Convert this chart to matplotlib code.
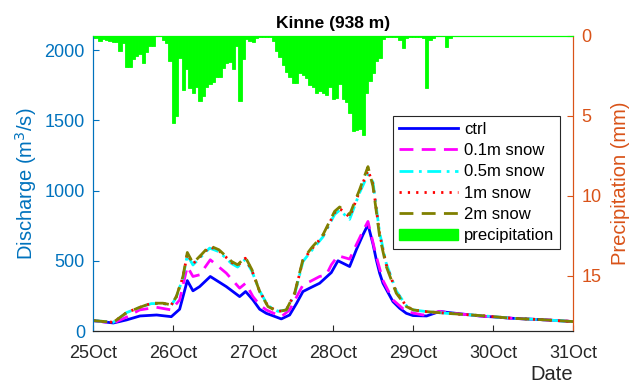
import matplotlib
matplotlib.use("Agg")
import matplotlib.pyplot as plt
from matplotlib.patches import Patch

plt.rcParams['font.family'] = ['Liberation Sans', 'DejaVu Sans']

# ---- data ----
day_labels = ['25Oct', '26Oct', '27Oct', '28Oct', '29Oct', '30Oct', '31Oct']

# hourly precipitation (mm), hour 0 = 25 Oct 00:00
precip = [0.12, 0.12, 0.29, 0.19, 0.25, 0.29, 0.40, 0.35, 0.92, 0.44,
          1.96, 1.96, 1.44, 1.27, 1.13, 1.71, 1.02, 0.65, 0.65, 0.02,
          0.02, 0.25, 0.46, 1.54, 5.46, 4.98, 1.38, 3.38, 2.06, 3.25,
          3.54, 3.17, 4.08, 3.75, 3.17, 3.00, 2.85, 2.58, 2.54, 2.02,
          1.69, 1.65, 2.04, 0.65, 4.04, 1.46, 0.19, 0.33, 0.40, 0.12,
          0.04, 0.04, 0.04, 0.04, 0.33, 0.92, 1.33, 1.79, 2.25, 2.58,
          2.96, 2.96, 2.33, 2.42, 2.63, 3.04, 3.20, 3.58, 3.46, 3.58,
          3.69, 3.20, 3.94, 3.90, 3.00, 3.94, 4.15, 4.83, 5.96, 5.88,
          5.81, 6.17, 3.58, 2.83, 2.33, 1.54, 1.40, 0.19, 0.08, 0.04,
          0.04, 0.08, 0.23, 0.75, 0.13, 0.04, 0.04, 0.08, 0.04, 0.15,
          3.25, 0.25, 0.12, 0.0, 0.0, 0.0, 0.67, 0.12, 0.0, 0.0,
          0.0, 0.0, 0.0, 0.0, 0.0, 0.0, 0.0, 0.0, 0.0, 0.0,
          0.0, 0.0, 0.0, 0.0, 0.0, 0.0, 0.0, 0.0, 0.0, 0.0,
          0.0, 0.0, 0.0, 0.0, 0.0, 0.0, 0.0, 0.0, 0.0, 0.0,
          0.0, 0.0, 0.0, 0.0]

t_ctrl = [0, 6, 10, 14, 19, 23.4, 25.9, 28.2, 29.9, 31.9, 35.1, 39.9, 43.9, 45.7,
          47.9, 49.9, 51.9, 56.4, 58.9, 61, 62.9, 64.9, 67.9, 71.4, 73.4, 76.9,
          78.9, 80.9, 82.4, 83.9, 84.9, 85.9, 86.9, 89.9, 91.9, 93.9, 95.9, 100,
          104, 106, 116, 126, 135, 144]
q_ctrl = [74, 57, 79, 107, 114, 102, 155, 359, 286, 316, 388, 316, 245, 281,
          221, 155, 126, 86, 114, 198, 281, 305, 340, 416, 500, 459,
          578, 685, 757, 620, 507, 412, 340, 209, 162, 126, 110, 107,
          140, 133, 107, 90, 80, 67]

t_01 = [0, 6, 9.9, 13.9, 18.9, 23.4, 25.9, 28.2, 29.9, 31.9, 35.1, 39.9, 43.9,
        45.7, 47.9, 49.9, 51.9, 56.4, 58.9, 62.9, 65, 67.9, 69.9, 71.4, 73.4,
        76.9, 78.9, 80.9, 82.4, 84.9, 86.9, 89.9, 93.9, 98.9, 104, 106, 116,
        126, 135, 144]
q_01 = [74, 57, 98, 150, 169, 150, 221, 459, 388, 400, 507, 412, 305,
        340, 245, 186, 150, 102, 150, 328, 352, 388, 400, 471, 536,
        512, 614, 712, 780, 531, 360, 221, 138, 114, 140, 131, 107,
        90, 80, 67]

t_snow = [0, 6, 10, 14, 17.4, 20.9, 23.4, 24.9, 26.9, 28.2, 29.9, 32.4, 34.9,
          37.7, 41.5, 43.3, 45.6, 47.6, 49.9, 52.4, 55.4, 57.9, 60.4, 61.9,
          62.9, 65.4, 68.9, 72.4, 73.9, 76.9, 79.9, 82.4, 83.9, 85.9, 87.9,
          90.9, 93.9, 96, 100, 106, 116, 126, 135, 144]
q_05 = [74, 62, 131, 169, 195, 195, 183, 240, 380, 540, 470, 530, 590,
        565, 480, 455, 510, 425, 285, 180, 140, 150, 260, 400,
        495, 570, 670, 830, 860, 795, 985, 1115, 1060, 700, 480,
        285, 180, 150, 138, 126, 110, 90, 80, 67]
q_1 = [74, 62, 131, 169, 197, 197, 185, 243, 385, 550, 478, 538, 600,
       572, 488, 465, 518, 430, 283, 177, 139, 150, 265, 408,
       503, 580, 678, 842, 872, 812, 995, 1145, 1045, 690, 470,
       277, 177, 150, 138, 126, 110, 90, 80, 67]
q_2 = [74, 62, 131, 169, 198, 198, 186, 245, 388, 559, 483, 543, 607,
       578, 495, 471, 526, 436, 280, 174, 138, 150, 269, 414,
       510, 590, 685, 852, 883, 828, 1007, 1170, 1030, 673, 459,
       269, 174, 150, 138, 126, 110, 90, 80, 67]

series_labels = ['ctrl', '0.1m snow', '0.5m snow', '1m snow', '2m snow']

# ---- styling ----
BLUE_AX = '#0072BD'
ORANGE_AX = '#D95319'
DARK = '#262626'
GREEN = '#00FF00'

fig = plt.figure(figsize=(6.35, 3.85), dpi=100)
ax = fig.add_axes([93.3 / 635, 54 / 385, 480 / 635, 295 / 385])
ax2 = ax.twinx()

lw = 2.0
l0, = ax.plot(t_ctrl, q_ctrl, color='#0000FF', lw=lw, ls='-')
l1, = ax.plot(t_01, q_01, color='#FF00FF', lw=lw, ls=(0, (5, 3)))
l2, = ax.plot(t_snow, q_05, color='#00FFFF', lw=lw, ls=(0, (5, 2, 1, 2)))
l3, = ax.plot(t_snow, q_1, color='#FF0000', lw=lw, ls=(0, (0.8, 2.2)))
l4, = ax.plot(t_snow, q_2, color='#808000', lw=lw, ls=(0, (5, 3)))

hours = list(range(len(precip)))
ax2.bar(hours, precip, width=1.0, color=GREEN, edgecolor=GREEN,
        linewidth=0.6, align='center')

ax.set_xlim(0, 144)
ax.set_ylim(0, 2100)
ax2.set_ylim(18.44, 0)

ax.set_xticks([0, 24, 48, 72, 96, 120, 144])
ax.set_xticklabels(day_labels)
ax.set_yticks([0, 500, 1000, 1500, 2000])
ax2.set_yticks([0, 5, 10, 15])

ax.tick_params(axis='x', direction='in', length=4, colors=DARK, labelsize=13, pad=10)
ax.tick_params(axis='y', direction='in', length=4, colors=BLUE_AX, labelsize=13, pad=6)
ax2.tick_params(axis='y', direction='in', length=4, colors=ORANGE_AX, labelsize=13, pad=6)

for a in (ax, ax2):
    a.spines['left'].set_color(BLUE_AX)
    a.spines['right'].set_color(ORANGE_AX)
    a.spines['bottom'].set_color(DARK)
    a.spines['top'].set_color(GREEN)
    for s in a.spines.values():
        s.set_linewidth(0.8)

ax.set_ylabel('Discharge (m$^3$/s)', color=BLUE_AX, fontsize=14.5, labelpad=4)
ax2.set_ylabel('Precipitation (mm)', color=ORANGE_AX, fontsize=14.5, labelpad=7)
ax.set_xlabel('Date', color=DARK, fontsize=14.5)
ax.xaxis.set_label_coords(0.955, -0.115)
ax.set_title('Kinne (938 m)', fontsize=12.5, fontweight='bold', pad=6)

handles = [l0, l1, l2, l3, l4, Patch(facecolor=GREEN, edgecolor=GREEN)]
labels = series_labels + ['precipitation']
leg = ax2.legend(handles, labels, loc='upper right', bbox_to_anchor=(0.973, 0.729),
                 fontsize=12, frameon=True, fancybox=False, framealpha=1,
                 edgecolor=DARK, handlelength=3.5, handletextpad=0.4,
                 labelspacing=0.38, borderpad=0.35, borderaxespad=0)
leg.get_frame().set_linewidth(0.8)

fig.savefig('out.png', dpi=100)
